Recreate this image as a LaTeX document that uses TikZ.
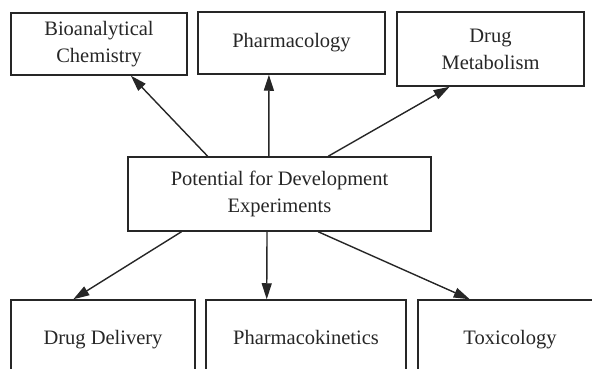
\documentclass[tikz,border=0pt]{standalone}
\usepackage{fontspec}
\setmainfont{Liberation Serif}
\usepackage{tikz}
\usetikzlibrary{calc,arrows.meta}
\definecolor{ink}{gray}{0.15}
\tikzset{
  box/.style={draw=ink,line width=1.5pt,text=ink,align=center,inner sep=2pt,
    font=\fontsize{20.5}{26.8}\selectfont},
  oneline/.style={box,text height=14pt,text depth=4.4pt},
  arr/.style={draw=ink,line width=1.4pt,-{Triangle[length=16pt,width=10pt]}}
}

\begin{document}
\begin{tikzpicture}[x=1pt,y=-1pt]
  \useasboundingbox (0,0) rectangle (592,369);
  \clip (0,0) rectangle (592,369);
  \node[box,minimum width=176pt,minimum height=62pt] (bio) at (99,44) {Bioanalytical\\Chemistry};
  \node[oneline,minimum width=187pt,minimum height=62pt] (pha) at (291.5,43) {Pharmacology};
  \node[box,minimum width=187pt,minimum height=74pt] (met) at (490.5,49) {Drug\\Metabolism};
  \node[box,minimum width=303pt,minimum height=74pt] (cen) at (279.5,194) {Potential for Development\\Experiments};
  \node[oneline,minimum width=184pt,minimum height=80pt] (del) at (103,340) {Drug Delivery};
  \node[oneline,minimum width=200pt,minimum height=80pt] (pk) at (306,340) {Pharmacokinetics};
  \node[oneline,minimum width=184pt,minimum height=80pt] (tox) at (510,340) {Toxicology};
  \draw[arr] ($(cen.north west)!0.264!(cen.north east)$) -- ($(bio.south west)!0.68!(bio.south east)$);
  \draw[arr] ($(cen.north west)!0.465!(cen.north east)$) -- ($(pha.south west)!0.38!(pha.south east)$);
  \draw[arr] ($(cen.north west)!0.660!(cen.north east)$) -- ($(met.south west)!0.283!(met.south east)$);
  \draw[arr] ($(cen.south west)!0.178!(cen.south east)$) -- ($(del.north west)!0.34!(del.north east)$);
  \draw[arr] ($(cen.south west)!0.459!(cen.south east)$) -- ($(pk.north west)!0.305!(pk.north east)$);
  \draw[arr] ($(cen.south west)!0.627!(cen.south east)$) -- ($(tox.north west)!0.283!(tox.north east)$);
\end{tikzpicture}
\end{document}
